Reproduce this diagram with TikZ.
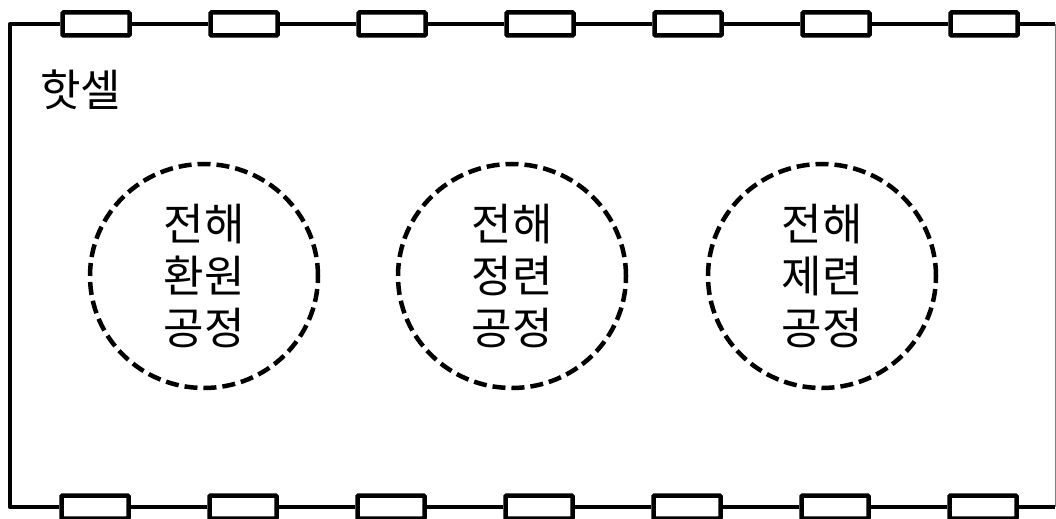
\documentclass[tikz,border=0pt]{standalone}
\usepackage{fontspec}
\setmainfont{Noto Sans CJK KR}
\newfontfamily\kr{Noto Sans CJK KR}
\usetikzlibrary{shapes.geometric}
\tikzset{
  wire/.style={line width=4.5bp, line join=round, line cap=butt},
  resbox/.style={draw, line width=4.5bp, rounded corners=1bp, fill=white, minimum width=67bp, minimum height=23bp, inner sep=0pt},
  process/.style={draw, ellipse, dash pattern=on 13bp off 6bp, line width=4.5bp, minimum width=228bp, minimum height=224bp, inner sep=0pt, align=center, font=\kr\fontsize{44bp}{52bp}\selectfont},
  label/.style={font=\kr\fontsize{44bp}{52bp}\selectfont, inner sep=0pt}
}
\begin{document}
\begin{tikzpicture}[x=1bp,y=-1bp]
\useasboundingbox (0,0) rectangle (1056,519);
\coordinate (tl) at (10,24);
\coordinate (bl) at (10,507);
\coordinate (tr) at (1055,24);
\coordinate (br) at (1055,507);
\foreach \i/\x in {1/96,2/244,3/392,4/540,5/688,6/836,7/984}{
  \node[resbox] (t\i) at (\x,24) {};
  \node[resbox] (b\i) at (\x-1,507) {};
}
\draw[wire] (t1.west) -- (tl) -- (bl) -- (b1.west);
\foreach \a/\b in {1/2,2/3,3/4,4/5,5/6,6/7}{
  \draw[wire] (t\a.east) -- (t\b.west);
  \draw[wire] (b\a.east) -- (b\b.west);
}
\draw[wire] (t7.east) -- (tr);
\draw[wire] (b7.east) -- (br);
\draw[line width=1bp, gray] (tr) -- (br);
\node[label, anchor=base west] (hot) at (40,107) {핫셀};
\node[process] (p1) at (204,276) {전해\\환원\\공정};
\node[process] (p2) at (512,276) {전해\\정련\\공정};
\node[process] (p3) at (822,276) {전해\\제련\\공정};
\end{tikzpicture}
\end{document}
